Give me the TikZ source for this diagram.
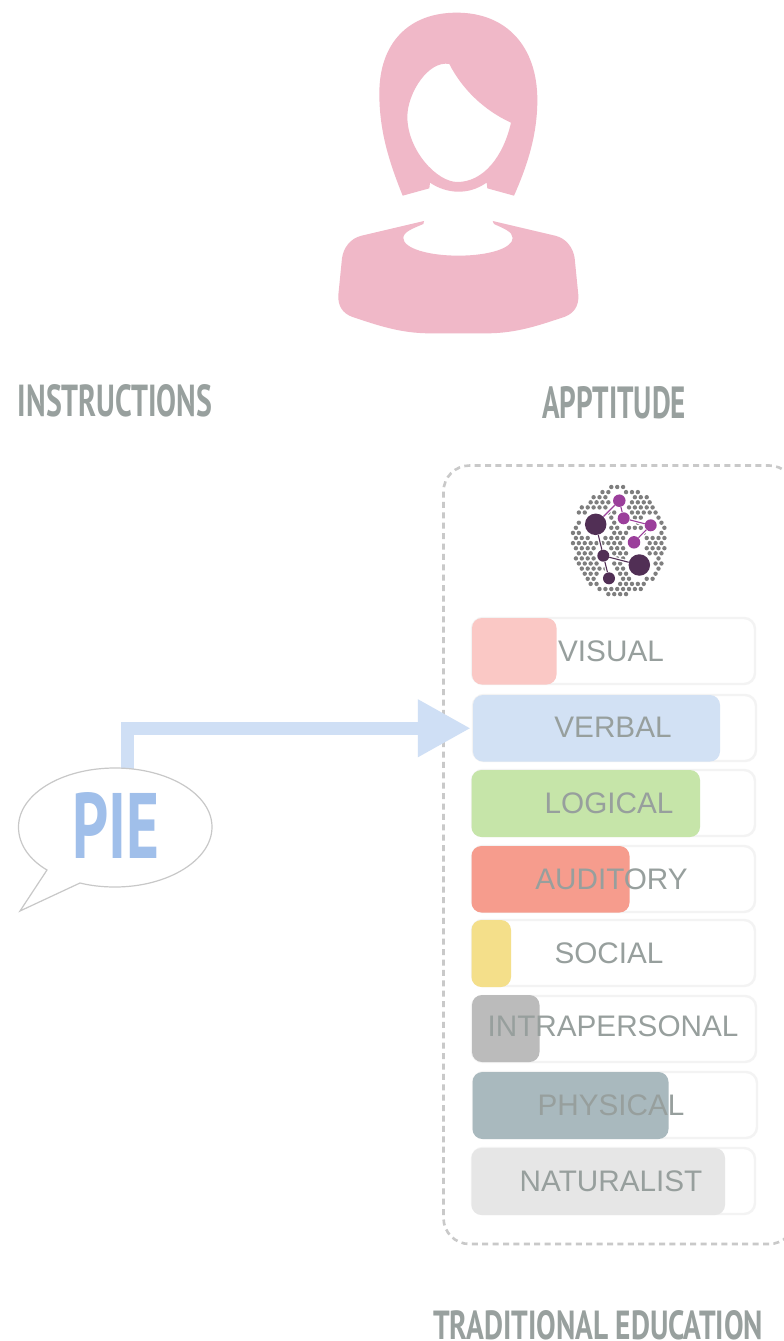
\documentclass[tikz,border=0pt]{standalone}
\usepackage{fontspec}
\usepackage{graphicx}
\setmainfont{Liberation Sans}
\newfontfamily\dinfont{PT Sans}[BoldFont=* Bold]
\usetikzlibrary{arrows.meta}
\definecolor{hairpink}{HTML}{F0B8C8}
\definecolor{labelgrey}{HTML}{979F9D}
\definecolor{headgrey}{HTML}{98A09E}
\definecolor{dashgrey}{HTML}{C9C9C9}
\definecolor{trackgrey}{HTML}{F3F3F3}
\definecolor{arrowblue}{HTML}{CFDFF5}
\definecolor{pieblue}{HTML}{A0BFEA}
\definecolor{bubblegrey}{HTML}{C8C8C8}
\definecolor{dotgrey}{HTML}{7E7E7E}
\definecolor{darkplum}{HTML}{512F55}
\definecolor{brightplum}{HTML}{9B3F9B}
\definecolor{cvisual}{HTML}{FAC8C5}
\definecolor{cverbal}{HTML}{D2E1F4}
\definecolor{clogical}{HTML}{C6E5A9}
\definecolor{cauditory}{HTML}{F69C8D}
\definecolor{csocial}{HTML}{F4DF8A}
\definecolor{cintra}{HTML}{BBBBBB}
\definecolor{cphysical}{HTML}{A9B9BE}
\definecolor{cnatural}{HTML}{E6E6E6}
\tikzset{
  trackbox/.style={draw=trackgrey,line width=2.4pt,fill=white,rounded corners=11pt,inner sep=0pt},
  fillbox/.style={rounded corners=10pt,inner sep=0pt,draw=none},
  barlabel/.style={text=labelgrey,font=\fontsize{29.7pt}{30pt}\selectfont,inner sep=0pt},
  headlabel/.style={text=headgrey,inner sep=0pt,font=\dinfont\bfseries\fontsize{40pt}{40pt}\selectfont},
  darkdot/.style={circle,fill=darkplum,inner sep=0pt,draw=none},
  plumdot/.style={circle,fill=brightplum,inner sep=0pt,draw=none},
  darklink/.style={draw=darkplum,line width=1.1pt},
  plumlink/.style={draw=brightplum,line width=1.1pt},
}
\newcommand{\barbox}[6]{%
  \node[#6,minimum width=\dimexpr #3pt-#1pt\relax,minimum height=\dimexpr #4pt-#2pt\relax] (#5) at ({(#1+#3)/2},{(#2+#4)/2}) {};}
\begin{document}
\begin{tikzpicture}[x=1pt,y=-1pt]
\useasboundingbox (0,0) rectangle (784,1341);
\fill[white] (0,0) rectangle (784,1341);

% person
\begin{scope}[xshift=320pt,x=0.33333pt,y=-0.33333pt]
\fill[hairpink,even odd rule]
  (248,587) .. controls (205,480) and (178,390) .. (178,280)
  .. controls (178,130) and (265,38) .. (410,38)
  .. controls (560,38) and (652,140) .. (652,300)
  .. controls (652,400) and (625,490) .. (582,587)
  -- (502,565) -- (500,548)
  .. controls (470,568) and (445,575) .. (415,575)
  .. controls (385,575) and (355,565) .. (330,548)
  -- (328,565) -- cycle
  (388,192) .. controls (425,265) and (490,330) .. (573,368)
  .. controls (550,470) and (490,546) .. (412,546)
  .. controls (350,546) and (262,450) .. (262,350)
  .. controls (262,280) and (325,180) .. (388,192) -- cycle;
\fill[hairpink]
  (312,663) -- (125,707)
  .. controls (90,715) and (70,745) .. (66,775)
  -- (55,885)
  .. controls (53,920) and (70,940) .. (95,950)
  .. controls (170,975) and (240,1000) .. (330,1000)
  -- (500,1000)
  .. controls (590,1000) and (660,975) .. (735,950)
  .. controls (760,940) and (777,920) .. (775,885)
  -- (764,775)
  .. controls (760,745) and (740,715) .. (705,707)
  -- (518,663) -- (522,672)
  .. controls (550,685) and (578,695) .. (578,714)
  .. controls (578,745) and (505,767) .. (415,767)
  .. controls (325,767) and (250,745) .. (250,714)
  .. controls (250,695) and (280,685) .. (310,672) -- cycle;
\end{scope}

% headings
\node[headlabel] (instr) at (115,401) {\resizebox{194pt}{32pt}{INSTRUCTIONS}};
\node[headlabel] (apt) at (614,403) {\resizebox{144pt}{32pt}{APPTITUDE}};
\node[headlabel,anchor=north] (trad) at (598,1310) {\resizebox{330pt}{29pt}{TRADITIONAL EDUCATION}};

% dashed container
\draw[dashgrey,line width=2.6pt,dash pattern=on 6pt off 4.4pt,rounded corners=26pt] (443.5,465.5) rectangle (795,1244);

% brain dots
\foreach \i in {0,...,17}{
  \foreach \j in {0,...,21}{
    \pgfmathsetmacro{\px}{570+\i*5.9+mod(\j,2)*2.95}
    \pgfmathsetmacro{\py}{487+\j*5.1}
    \pgfmathtruncatemacro{\keep}{and(((\px-619)/47)*((\px-619)/47)+((\py-541)/55)*((\py-541)/55)<1,
      and(veclen(\px-595.7,\py-524.3)>15.5,
      and(veclen(\px-639.3,\py-565)>15.5,
      and(veclen(\px-603.3,\py-555.7)>10,
      and(veclen(\px-609,\py-578.3)>10,
      and(veclen(\px-619.3,\py-500.7)>10.5,
      and(veclen(\px-623.7,\py-518.3)>10,
      and(veclen(\px-650.7,\py-525.3)>10,
      veclen(\px-634,\py-542.3)>10.5))))))))}
    \ifnum\keep=1 \fill[dotgrey] (\px,\py) circle[radius=2.2pt]; \fi
  }
}
% brain network
\node[darkdot,minimum size=21.5pt] (b1) at (595.7,524.3) {};
\node[darkdot,minimum size=21.5pt] (b2) at (639.3,565) {};
\node[darkdot,minimum size=12pt] (b3) at (603.3,555.7) {};
\node[darkdot,minimum size=12pt] (b4) at (609,578.3) {};
\node[plumdot,minimum size=12.5pt] (p1) at (619.3,500.7) {};
\node[plumdot,minimum size=12pt] (p2) at (623.7,518.3) {};
\node[plumdot,minimum size=12pt] (p3) at (650.7,525.3) {};
\node[plumdot,minimum size=12.5pt] (p4) at (634,542.3) {};
\draw[white,line width=3.5pt] (p1) -- (b1) (p1) -- (p2) (p2) -- (p3) (p3) -- (p4) (b1) -- (b3) (b3) -- (b2) (b3) -- (b4);
\draw[plumlink] (p1) -- (b1);
\draw[plumlink] (p1) -- (p2);
\draw[plumlink] (p2) -- (p3);
\draw[plumlink] (p3) -- (p4);
\draw[darklink] (b1) -- (b3);
\draw[darklink] (b3) -- (b2);
\draw[darklink] (b3) -- (b4);

% bars
\barbox{472}{618}{755}{684}{tvisual}{trackbox}
\barbox{473}{695}{756}{761}{tverbal}{trackbox}
\barbox{472}{770}{755}{836}{tlogical}{trackbox}
\barbox{472}{846}{755}{912}{tauditory}{trackbox}
\barbox{472}{920}{755}{986}{tsocial}{trackbox}
\barbox{472}{996}{756}{1062}{tintra}{trackbox}
\barbox{473}{1072}{757}{1138}{tphysical}{trackbox}
\barbox{472}{1148}{755}{1214}{tnatural}{trackbox}
\barbox{472}{618}{556.5}{684.5}{fvisual}{fillbox,fill=cvisual}
\barbox{473}{695}{720}{761.5}{fverbal}{fillbox,fill=cverbal}
\barbox{471.5}{770}{700}{837}{flogical}{fillbox,fill=clogical}
\barbox{471.5}{846}{629.5}{912.5}{fauditory}{fillbox,fill=cauditory}
\barbox{471.5}{920}{511}{987}{fsocial}{fillbox,fill=csocial}
\barbox{472}{995}{539.5}{1062}{fintra}{fillbox,fill=cintra}
\barbox{472.5}{1072}{668.5}{1139}{fphysical}{fillbox,fill=cphysical}
\barbox{471.5}{1148}{725}{1215}{fnatural}{fillbox,fill=cnatural}
\node[barlabel] (lvisual) at (611,651) {VISUAL};
\node[barlabel] (lverbal) at (613,727) {VERBAL};
\node[barlabel] (llogical) at (609,803) {LOGICAL};
\node[barlabel] (lauditory) at (611.5,879) {AUDITORY};
\node[barlabel] (lsocial) at (609,953) {SOCIAL};
\node[barlabel] (lintra) at (613,1026) {INTRAPERSONAL};
\node[barlabel] (lphysical) at (611,1105) {PHYSICAL};
\node[barlabel] (lnatural) at (611,1181) {NATURALIST};

% arrow and speech bubble
\coordinate (bubbletop) at (127.7,775);
\draw[arrowblue,line width=13.3pt,-{Triangle[length=53pt,width=54pt]},shorten >=2pt] (bubbletop) |- (fverbal.west);
\draw[bubblegrey,line width=1.2pt,fill=white,line join=miter]
  (47,870) .. controls (30,860) and (18.5,845) .. (18.5,827)
  .. controls (18.5,794) and (62,768) .. (115,768)
  .. controls (168,768) and (212,794) .. (212,827)
  .. controls (212,860) and (168,887) .. (115,887)
  .. controls (102,887) and (90,885.5) .. (80,883)
  -- (20,911) -- cycle;
\node[inner sep=0pt,text=pieblue,font=\dinfont\bfseries\fontsize{90pt}{90pt}\selectfont] (pie) at (116,825) {\resizebox{87pt}{66pt}{PIE}};
\end{tikzpicture}
\end{document}
